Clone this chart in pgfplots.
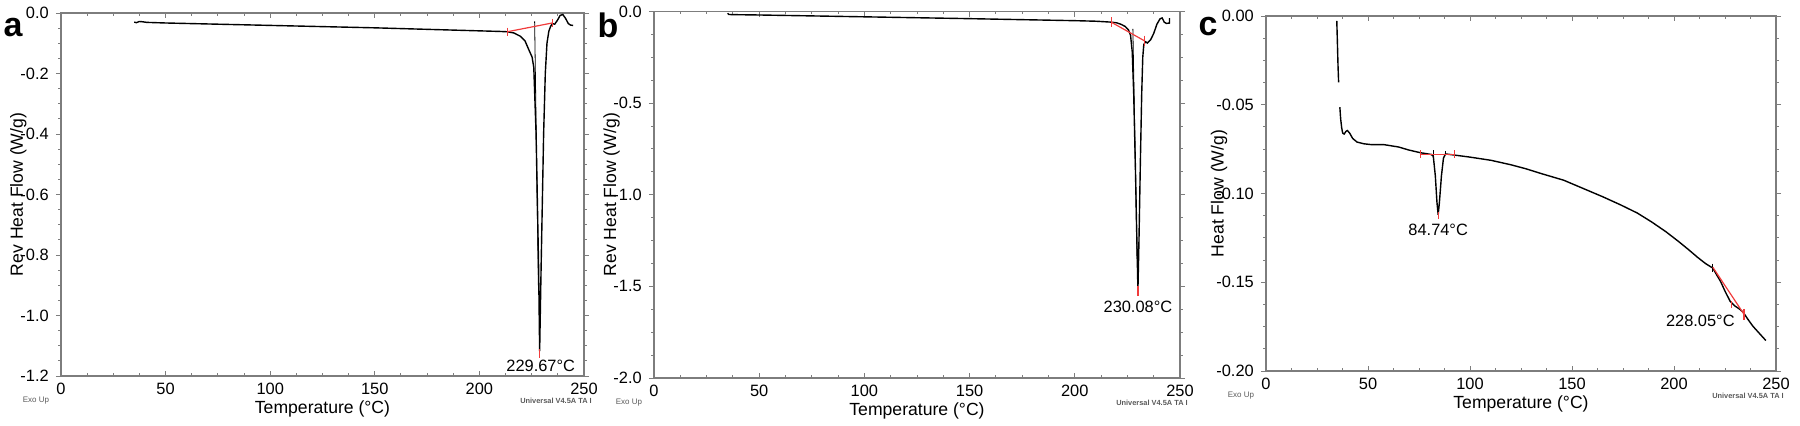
\documentclass[border=0pt]{standalone}
\usepackage{fontspec}
\setmainfont{Liberation Sans}
\usepackage{pgfplots}
\pgfplotsset{compat=1.18}

\definecolor{framegray}{RGB}{125,125,125}
\definecolor{anno}{RGB}{240,60,60}
\definecolor{tagtext}{RGB}{90,90,90}

\pgfplotsset{
  dsc/.style={
    scale only axis, anchor=south west, clip=false,
    xmin=0, xmax=250, xtick={0,50,...,250},
    minor x tick num=3, minor y tick num=3,
    axis line style={framegray, line width=0.6pt},
    tick style={framegray, line width=0.5pt},
    xtick align=inside, ytick align=outside,
    major tick length=2.6pt, minor tick length=1.4pt,
    tick label style={font=\fontsize{8.2}{10}\selectfont},
    label style={font=\fontsize{8.8}{11}\selectfont},
    /pgf/number format/assume math mode=true,
    xlabel={Temperature (°C)},
    xlabel style={at={(axis description cs:0.5,0)}, anchor=center, yshift=-16.5pt},
  },
  curve/.style={black, line width=0.7pt, no markers},
  thin/.style={black, line width=0.4pt, no markers},
  redl/.style={anno, line width=0.6pt, no markers},
}
\newcommand\tags{%
  \node[font=\fontsize{4}{4}\selectfont, text=tagtext] at (rel axis cs:0,0) [xshift=-12.5pt, yshift=-12.5pt] {Exo Up};
  \node[font=\fontsize{3.7}{4}\selectfont\bfseries, text=tagtext] at (rel axis cs:1,0) [xshift=-14pt, yshift=-12.5pt] {Universal V4.5A TA I};
}

\begin{document}
\begin{tikzpicture}
\useasboundingbox (0,0) rectangle (900pt,212.5pt);

% ---------- panel a ----------
\begin{axis}[dsc, at={(30.5pt,24.5pt)}, width=261.5pt, height=181.5pt,
  ymin=-1.2, ymax=0, ytick={-1.2,-1.0,...,0.0},
  yticklabel style={/pgf/number format/.cd, fixed, fixed zerofill, precision=1},
  ylabel style={at={(axis description cs:-0.0815,0.5)}, anchor=center},
  ylabel={Rev Heat Flow (W/g)}]
  \addplot[curve] coordinates {
    (35,-0.030) (36,-0.032) (37.5,-0.028) (39,-0.029) (41,-0.031) (50,-0.033)
    (75,-0.037) (100,-0.041) (125,-0.045) (150,-0.049) (175,-0.054) (200,-0.059)
    (210,-0.061) (213.3,-0.062) (216.5,-0.066) (219.6,-0.077) (221.8,-0.092)
    (223.6,-0.121) (225.2,-0.146) (226,-0.18) (227.1,-0.40) (228.3,-0.84)
    (228.8,-1.118) (229.5,-0.84) (230.7,-0.40) (231.5,-0.20) (232.3,-0.10)
    (233.2,-0.06) (234.0,-0.045) (234.8,-0.035) (236.0,-0.037) (237.3,-0.024)
    (238.6,-0.008) (239.9,-0.005) (241.2,-0.018) (242.5,-0.035) (243.6,-0.040)
    (244.8,-0.041)};
  \addplot[thin] coordinates {(226.4,-0.028) (228.2,-0.90)};
  \addplot[redl] coordinates {(213.3,-0.062) (234.8,-0.033)};
  \addplot[redl] coordinates {(213.3,-0.048) (213.3,-0.076)};
  \addplot[redl] coordinates {(234.8,-0.019) (234.8,-0.047)};
  \addplot[redl] coordinates {(228.8,-1.110) (228.8,-1.140)};
  \node[font=\fontsize{8.2}{10}\selectfont] at (axis cs:229.3,-1.168) {229.67°C};
  \tags
\end{axis}

% ---------- panel b ----------
\begin{axis}[dsc, at={(327pt,23.5pt)}, width=263pt, height=183.25pt,
  ymin=-2.0, ymax=0, ytick={-2.0,-1.5,...,0.0},
  yticklabel style={/pgf/number format/.cd, fixed, fixed zerofill, precision=1},
  ylabel style={at={(axis description cs:-0.0808,0.5)}, anchor=center},
  ylabel={Rev Heat Flow (W/g)}]
  \addplot[curve] coordinates {
    (35,-0.010) (35.5,-0.016) (37,-0.017) (50,-0.019) (100,-0.029) (150,-0.039)
    (200,-0.050) (210,-0.053) (217.3,-0.058) (220,-0.062) (222,-0.070)
    (224,-0.082) (225.5,-0.10) (226.5,-0.13) (227.3,-0.22) (228,-0.45)
    (228.8,-0.85) (229.5,-1.25) (230.0,-1.52) (230.5,-1.25) (231.2,-0.80)
    (231.8,-0.45) (232.3,-0.25) (232.8,-0.18) (233.6,-0.165) (234.5,-0.172)
    (236,-0.155) (237.5,-0.12) (239,-0.07) (240.5,-0.04) (241.5,-0.035)
    (242.5,-0.058) (243.5,-0.065) (245,-0.063) (245,-0.036)};
  \addplot[thin] coordinates {(227.6,-0.095) (229.6,-1.35)};
  \addplot[redl] coordinates {(217.3,-0.058) (233.1,-0.160)};
  \addplot[redl] coordinates {(217.3,-0.030) (217.3,-0.086)};
  \addplot[redl] coordinates {(233.1,-0.132) (233.1,-0.188)};
  \addplot[redl] coordinates {(230.0,-1.50) (230.0,-1.55)};
  \node[font=\fontsize{8.2}{10}\selectfont] at (axis cs:230,-1.614) {230.08°C};
  \tags
\end{axis}

% ---------- panel c ----------
\begin{axis}[dsc, at={(633pt,27pt)}, width=255pt, height=177.5pt,
  ymin=-0.2, ymax=0, ytick={-0.20,-0.15,...,0.00},
  yticklabel style={/pgf/number format/.cd, fixed, fixed zerofill, precision=2},
  ylabel style={at={(axis description cs:-0.092,0.5)}, anchor=center},
  ylabel={Heat Flow (W/g)}]
  \addplot[curve] coordinates {
    (34.7,-0.0028) (35.0,-0.015) (35.3,-0.028) (35.6,-0.0374)};
  \addplot[curve] coordinates {
    (36.2,-0.0514) (36.6,-0.058) (37.1,-0.063) (37.6,-0.066) (38.3,-0.0665)
    (39.2,-0.065) (39.9,-0.0645) (41,-0.066) (42.5,-0.069) (44.6,-0.071)
    (48,-0.072) (52,-0.0725) (58,-0.0725) (65,-0.0738) (70,-0.0755)
    (75.6,-0.077) (81,-0.078) (82,-0.079) (83,-0.090) (83.8,-0.105)
    (84.4,-0.112) (85,-0.105) (86,-0.090) (87,-0.080) (88,-0.0777)
    (93.4,-0.0785) (100,-0.0795) (110.3,-0.0813) (120,-0.0838) (127.2,-0.086)
    (135,-0.0888) (145.9,-0.0925) (157.2,-0.098) (165,-0.1018) (174,-0.1065)
    (182,-0.111) (189,-0.116) (196,-0.1215) (202.2,-0.127) (207,-0.1315)
    (211.6,-0.136) (215.5,-0.1395) (219,-0.142) (221,-0.146) (222.8,-0.1495)
    (225,-0.155) (227.5,-0.1607) (230,-0.1635) (232,-0.165) (234,-0.167)
    (236,-0.1705) (238.7,-0.1748) (242,-0.179) (245,-0.1828)};
  \addplot[thin] coordinates {(81.9,-0.0755) (81.9,-0.0790)};
  \addplot[thin] coordinates {(87.8,-0.0760) (87.8,-0.0785)};
  \addplot[thin] coordinates {(219,-0.1395) (219,-0.1445)};
  \addplot[redl] coordinates {(75.8,-0.0778) (92.5,-0.0778)};
  \addplot[redl] coordinates {(75.8,-0.0755) (75.8,-0.0801)};
  \addplot[redl] coordinates {(92.5,-0.0755) (92.5,-0.0801)};
  \addplot[redl] coordinates {(84.5,-0.1105) (84.5,-0.1145)};
  \addplot[redl] coordinates {(219,-0.1415) (234.3,-0.1680)};
  \addplot[redl] coordinates {(228.0,-0.1605) (228.0,-0.1645)};
  \addplot[redl] coordinates {(234.3,-0.1650) (234.3,-0.1710)};
  \node[font=\fontsize{8.2}{10}\selectfont] at (axis cs:84.4,-0.1206) {84.74°C};
  \node[font=\fontsize{8.2}{10}\selectfont] at (axis cs:212.9,-0.1716) {228.05°C};
  \tags
\end{axis}

\node[font=\bfseries\fontsize{17}{17}\selectfont] at (6.5pt,198.5pt) {a};
\node[font=\bfseries\fontsize{17}{17}\selectfont] at (304pt,200pt) {b};
\node[font=\bfseries\fontsize{17}{17}\selectfont] at (604pt,199pt) {c};
\end{tikzpicture}
\end{document}
